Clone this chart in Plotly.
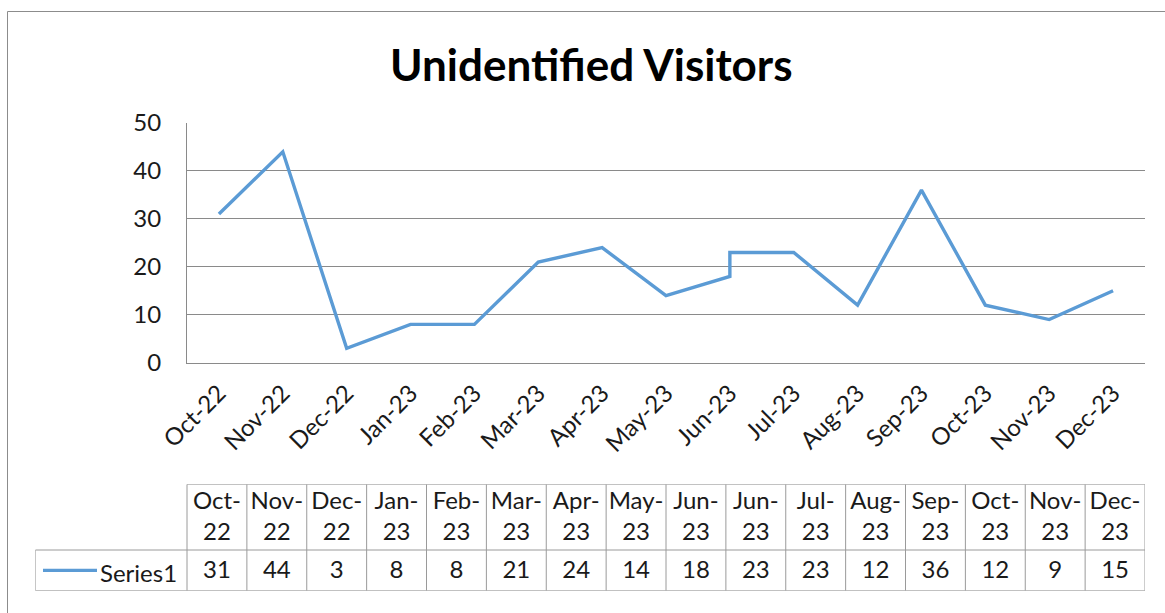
import plotly.graph_objects as go

# ---- data ----
months = ["Oct-22", "Nov-22", "Dec-22", "Jan-23", "Feb-23", "Mar-23", "Apr-23", "May-23",
          "Jun-23", "Jul-23", "Aug-23", "Sep-23", "Oct-23", "Nov-23", "Dec-23"]
point_months = ["Oct-22", "Nov-22", "Dec-22", "Jan-23", "Feb-23", "Mar-23", "Apr-23", "May-23",
                "Jun-23", "Jun-23", "Jul-23", "Aug-23", "Sep-23", "Oct-23", "Nov-23", "Dec-23"]
visitors = [31, 44, 3, 8, 8, 21, 24, 14, 18, 23, 23, 12, 36, 12, 9, 15]
series_name = "Series1"
title_text = "Unidentified Visitors"
y_ticks = [0, 10, 20, 30, 40, 50]

# ---- layout constants (screen pixels) ----
W, H = 1165, 613
FONT = "Lato, 'Open Sans', sans-serif"
TXT = "#1a1a1a"
LINE = "#5B9BD5"
GRID = "#8a8a8a"
TBL = "#9a9a9a"


def fx(px):  # screen x -> paper fraction
    return px / W


def fy(py):  # screen y -> paper fraction (from bottom)
    return 1 - py / H


PX_L, PX_R = 187, 1145
PY_T, PY_B = 123, 362.7
TB_T, TB_B = 484.3, 590.7
ROW_SPLIT_PX = 550.0
LEG_L_PX = 35.3
split = (TB_B - ROW_SPLIT_PX) / (TB_B - TB_T)
ncol = len(point_months)
colw = (PX_R - PX_L) / ncol


def px2x2(px):
    return -0.5 + (px - PX_L) / colw


leg_l = px2x2(LEG_L_PX)

fig = go.Figure()
fig.add_trace(go.Scatter(
    x=point_months, y=visitors, mode="lines", name=series_name,
    line=dict(color=LINE, width=3.4), showlegend=False, hoverinfo="x+y",
))

# data table text (through a second pair of axes)
fig.add_trace(go.Scatter(
    x=list(range(ncol)), y=[split * 0.45] * ncol, mode="text",
    text=[str(v) for v in visitors], textposition="middle center",
    textfont=dict(family=FONT, size=24, color=TXT),
    xaxis="x2", yaxis="y2", showlegend=False, hoverinfo="skip",
))
hdr = [m.replace("-", "-<br>") for m in point_months]
fig.add_trace(go.Scatter(
    x=list(range(ncol)), y=[(1 + split) / 2 - 0.01] * ncol, mode="text",
    text=hdr, textposition="middle center",
    textfont=dict(family=FONT, size=24, color=TXT),
    xaxis="x2", yaxis="y2", showlegend=False, hoverinfo="skip",
))

shapes = []
for i in range(ncol + 1):
    shapes.append(dict(type="line", xref="x2", yref="y2", x0=i - 0.5, x1=i - 0.5, y0=0, y1=1,
                       line=dict(color=TBL, width=1)))
shapes += [
    dict(type="line", xref="x2", yref="y2", x0=-0.5, x1=ncol - 0.5, y0=1, y1=1, line=dict(color=TBL, width=1)),
    dict(type="line", xref="x2", yref="y2", x0=leg_l, x1=ncol - 0.5, y0=split, y1=split, line=dict(color=TBL, width=1)),
    dict(type="line", xref="x2", yref="y2", x0=leg_l, x1=ncol - 0.5, y0=0, y1=0, line=dict(color=TBL, width=1)),
    dict(type="line", xref="x2", yref="y2", x0=leg_l, x1=leg_l, y0=0, y1=split, line=dict(color=TBL, width=1)),
    # legend key
    dict(type="line", xref="x2", yref="y2", x0=px2x2(43), x1=px2x2(97), y0=split / 2, y1=split / 2,
         line=dict(color=LINE, width=3.4)),
    # outer chart border
    dict(type="line", xref="paper", yref="paper", x0=fx(7.5), x1=fx(7.5), y0=0, y1=fy(11.5),
         line=dict(color="#8c8c8c", width=1)),
    dict(type="line", xref="paper", yref="paper", x0=fx(7.5), x1=1, y0=fy(11.5), y1=fy(11.5),
         line=dict(color="#8c8c8c", width=1)),
]

annotations = [
    dict(text=series_name, xref="x2", yref="y2", x=px2x2(179), y=split * 0.45, xanchor="right",
         yanchor="middle", showarrow=False, font=dict(family=FONT, size=24, color=TXT)),
    dict(text="<b>" + title_text + "</b>", xref="paper", yref="paper", x=fx(591), y=fy(64),
         xanchor="center", yanchor="middle", showarrow=False,
         font=dict(family=FONT, size=44, color="#000000")),
]

fig.update_layout(
    template="none",
    width=W, height=H,
    autosize=False,
    margin=dict(l=0, r=0, t=0, b=0, pad=0),
    paper_bgcolor="white", plot_bgcolor="rgba(0,0,0,0)",
    font=dict(family=FONT, color=TXT),
    showlegend=False,
    xaxis=dict(
        domain=[fx(PX_L), fx(PX_R)], type="category", automargin=False,
        categoryorder="array", categoryarray=months,
        range=[-0.5, len(months) - 0.5],
        showgrid=False, zeroline=False, showline=True, linecolor=GRID, linewidth=1,
        ticks="", tickangle=-45, ticklabelstandoff=6,
        tickfont=dict(family=FONT, size=24, color=TXT),
    ),
    yaxis=dict(
        domain=[fy(PY_B), fy(PY_T)], range=[0, 50], automargin=False,
        tickvals=y_ticks, showgrid=True, gridcolor=GRID, gridwidth=1,
        zeroline=False, showline=True, linecolor=GRID, linewidth=1,
        ticks="", ticklabelstandoff=20,
        tickfont=dict(family=FONT, size=24, color=TXT),
    ),
    xaxis2=dict(domain=[fx(LEG_L_PX), fx(PX_R)], range=[leg_l, ncol - 0.5], visible=False,
                anchor="y2", automargin=False),
    yaxis2=dict(domain=[fy(TB_B), fy(TB_T)], range=[0, 1], visible=False,
                anchor="x2", automargin=False),
    shapes=shapes,
    annotations=annotations,
)

fig.write_html(
    "out.html",
    config={"displayModeBar": False},
    post_script="document.body.style.margin='0';document.body.style.overflow='hidden';",
)
